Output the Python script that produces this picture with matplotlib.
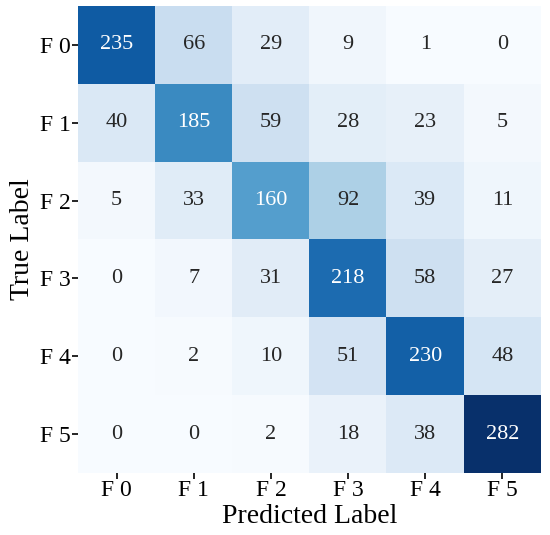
import matplotlib
matplotlib.use("Agg")
import matplotlib.pyplot as plt
import numpy as np

labels = ["F 0", "F 1", "F 2", "F 3", "F 4", "F 5"]
cm = np.array([
    [235, 66, 29, 9, 1, 0],
    [40, 185, 59, 28, 23, 5],
    [5, 33, 160, 92, 39, 11],
    [0, 7, 31, 218, 58, 27],
    [0, 2, 10, 51, 230, 48],
    [0, 0, 2, 18, 38, 282],
])

plt.rcParams['font.family'] = ['Liberation Serif', 'DejaVu Serif']

fig = plt.figure(figsize=(5.5, 5.35), dpi=100)
ax = fig.add_axes([78/550, 1 - 473/535, (541-78)/550, (473-6)/535])
ax.imshow(cm, cmap="Blues", vmin=0, vmax=cm.max(), aspect="auto")

for i in range(cm.shape[0]):
    for j in range(cm.shape[1]):
        v = cm[i, j]
        c = "white" if v > cm.max() / 2 else "#262626"
        ax.text(j, i, str(v), ha="center", va="center", fontsize=16, color=c)

ax.set_xticks(range(len(labels)))
ax.set_yticks(range(len(labels)))
ax.set_xticklabels(labels, fontsize=17)
ax.set_yticklabels(labels, fontsize=17)
ax.tick_params(length=4, width=1.2, pad=1)
for s in ax.spines.values():
    s.set_visible(False)
ax.set_xlabel("Predicted Label", fontsize=20, labelpad=2)
ax.set_ylabel("True Label", fontsize=20, labelpad=4)

fig.savefig("out.png", dpi=100)
